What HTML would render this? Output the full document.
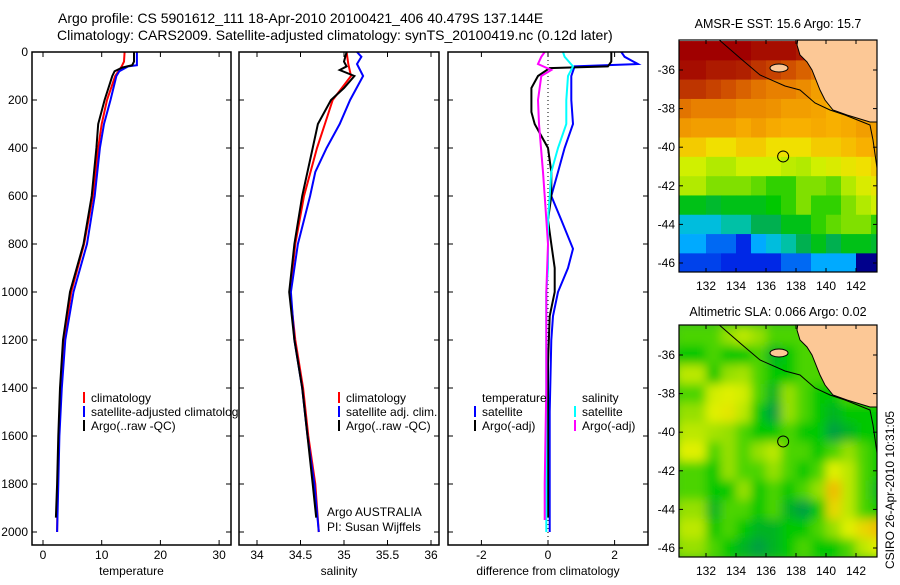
<!DOCTYPE html>
<html><head><meta charset="utf-8"><style>
body{margin:0;background:#fff;width:900px;height:580px;overflow:hidden}
svg{font-family:"Liberation Sans",sans-serif;font-size:12px}
</style></head><body>
<svg id="fig" width="900" height="580" viewBox="0 0 900 580">
<text x="58" y="23" font-size="14">Argo profile: CS 5901612_111 18-Apr-2010 20100421_406 40.479S 137.144E</text>
<text x="57" y="40" font-size="14">Climatology: CARS2009. Satellite-adjusted climatology: synTS_20100419.nc (0.12d later)</text>
<text x="778" y="28" text-anchor="middle" font-size="12.5">AMSR-E SST: 15.6 Argo: 15.7</text>
<text x="778" y="316" text-anchor="middle" font-size="12.5">Altimetric SLA: 0.066 Argo: 0.02</text>
<text transform="translate(894,490) rotate(-90)" text-anchor="middle">CSIRO 26-Apr-2010 10:31:05</text>
<text x="327" y="516">Argo AUSTRALIA</text>
<text x="327" y="531">PI: Susan Wijffels</text>
</svg>
<script>
// ---- profile data (depth in m) ----
const tClimD=[0,40,60,100,200,300,400,600,800,1000,1200,1400,1600,1800,2000];
const tClimV=[13.9,13.8,13.4,12.3,10.9,10.0,9.4,8.5,7.0,4.8,3.6,3.0,2.7,2.5,2.4];
const tSatD=[0,55,60,80,100,200,300,400,600,800,1000,1200,1400,1600,1800,2000];
const tSatV=[16.0,16.0,14.5,13.0,12.5,11.5,10.4,9.7,8.8,7.5,5.2,3.8,3.2,2.8,2.6,2.4];
const tArgD=[0,40,55,65,80,100,200,300,400,600,800,1000,1200,1400,1600,1800,1940];
const tArgV=[15.5,15.5,15.2,13.5,12.2,11.8,10.5,9.4,9.1,8.3,6.9,4.6,3.4,2.9,2.6,2.4,2.2];
const sClimD=[0,50,100,200,300,400,600,800,1000,1200,1400,1600,1800,2000];
const sClimV=[35.03,35.05,35.08,34.87,34.78,34.69,34.54,34.44,34.38,34.44,34.53,34.59,34.67,34.71];
const sSatD=[0,20,50,100,200,300,400,500,600,800,1000,1200,1400,1600,1800,2000];
const sSatV=[35.15,35.2,35.15,35.22,35.07,34.95,34.8,34.67,34.61,34.47,34.39,34.43,34.52,34.58,34.66,34.71];
const sArgD=[0,40,60,75,100,150,200,300,400,600,800,1000,1200,1400,1600,1800,1940];
const sArgV=[35.03,35.0,35.03,34.95,35.12,35.0,34.85,34.7,34.64,34.52,34.43,34.37,34.43,34.52,34.58,34.64,34.68];
const dTSatD=[0,20,50,60,100,200,300,400,500,600,700,820,900,1000,1100,1200,1500,2000];
const dTSatV=[2.2,2.3,2.7,0.8,0.7,0.7,0.75,0.5,0.3,0.1,0.4,0.75,0.6,0.3,0.15,0.1,0.05,0.05];
const dTArgD=[0,40,60,67,100,150,250,300,400,500,600,700,800,900,1000,1100,1300,1940];
const dTArgV=[1.9,1.9,1.8,0.05,-0.3,-0.5,-0.5,-0.4,0.0,0.1,0.1,0.0,0.1,0.2,0.2,0.05,0.0,0.0];
const dSSatD=[0,20,60,100,200,300,400,500,600,700,900,1000,1500,2000];
const dSSatV=[0.45,0.5,0.75,0.6,0.55,0.55,0.3,0.1,0.05,0.0,0.0,-0.05,-0.05,-0.05];
const dSArgD=[0,20,50,75,100,200,300,500,600,800,1000,1400,1800,1950];
const dSArgV=[-0.1,-0.2,-0.3,0.1,-0.2,-0.3,-0.27,-0.15,-0.1,0.0,-0.05,-0.05,-0.1,-0.1];
const depthTicks=[0,200,400,600,800,1000,1200,1400,1600,1800,2000];
const tTicks=[0,10,20,30];
const sTicks=[34,34.5,35,35.5,36];
const dTicks=[-2,0,2];
// ---- map data: rows lat -35..-46, cols lon 130.5..143.5 ----
const mapLats=[-35,-36,-37,-38,-39,-40,-41,-42,-43,-44,-45,-46];
const mapLons=[130.5,131.5,132.5,133.5,134.5,135.5,136.5,137.5,138.5,139.5,140.5,141.5,142.5,143.5];
const sstGrid=[
[19,19,19,19,19,18.8,18.8,18.8,18.6,18.5,18.5,18.5,18.5,18.5],
[18.8,18.8,18.6,18.6,18.5,18.2,18,17.8,17.5,17.2,17,17,17,17],
[18.2,18.2,18,17.8,17.5,17.2,17,17,16.8,16.5,16.5,16.5,16.5,16.5],
[17.2,17,17,17,16.8,16.8,16.7,16.5,16.5,16.4,16.2,16.3,16.5,16.5],
[16.6,16.5,16.5,16.5,16.3,16.5,16.3,16.2,16.2,16.3,16.2,16.3,16.5,16.5],
[15.8,15.8,15.5,15.5,15.8,15.8,15.5,15.5,15.5,15.8,15.8,16,16.2,16.3],
[14.8,14.8,14.5,14.5,14.8,14.8,14.8,14.6,14.5,14.8,15,15.3,15.5,15.8],
[14.5,14.5,14,14,14,13.8,13.5,13.5,14,14,13.8,14.5,15,15.3],
[13,13,12.8,13,13,13,13.2,13.5,14,13.5,13.5,14,14.5,14.8],
[11.5,11.5,11.5,12,12,12.5,12.5,13,13,13.5,13.8,14,14,13.5],
[11,11,10.5,10.5,10,11,11.5,12,12.5,13,12.5,13,13,12.8],
[10.2,10.2,10.2,10,10,10,10,10.5,10.5,11,11,11,9,9]];
const slaGrid=[
[0.05,0.05,0.05,0.1,0.15,0.1,0.05,0.05,0.05,0.05,0.05,0.05,0.05,0.05],
[0,0,0.05,0,0,0.05,-0.05,0,0.05,0.05,0.05,0.05,0.05,0.05],
[0.15,0.15,0,0.1,0.12,0.05,0,0,0.05,0.05,0.05,0.05,0.05,0.05],
[0.05,0.05,0.18,0.2,0.18,0.05,-0.05,0.1,0.05,0,0,0.05,0.05,0.05],
[0.1,0.1,0.2,0.22,0.15,0,-0.1,0.1,0.05,0,-0.05,0,0,0],
[0.15,0.15,0.12,0.1,0.05,0,0,0.05,0,0,-0.1,-0.05,0,0],
[0.2,0.2,0.05,0.1,0.05,0.1,0.15,0.05,0.05,0,0.05,0.1,0.05,0],
[0.05,0.05,0,0.1,0.05,0.05,0.1,0.05,0,0.05,0.2,0.15,0.05,0],
[0.05,0.05,0,0,0.1,0,0.05,0,0.05,0.1,0.3,0.15,0.05,-0.05],
[0.1,0.1,-0.05,0.05,0.05,0,0.05,-0.05,-0.1,0,0.25,0.15,0.05,0],
[0.15,0.15,0,0.05,0,-0.05,-0.05,0,0,0.05,0.1,0.2,0.25,0.3],
[0.1,0.1,0.05,0,-0.05,-0.1,-0.05,0,0.05,0,0,0.05,0.15,0.2]];
const lonTicks=[132,134,136,138,140,142];
const latTicks=[-36,-38,-40,-42,-44,-46];
const argoLon=137.144, argoLat=-40.479;

const svg=document.getElementById('fig');
const NS='http://www.w3.org/2000/svg';
function mk(tag,attrs,parent){const e=document.createElementNS(NS,tag);for(const k in attrs)e.setAttribute(k,attrs[k]);(parent||svg).appendChild(e);return e;}
const yD=d=>52+d*0.24;

function panel(name,x0,x1,xs,ticks,tickFmt,label,showY){
  const g=mk('g',{});
  
  
  for(const d of depthTicks){const y=yD(d);
    mk('line',{x1:x0,x2:x0+5,y1:y,y2:y,stroke:'#000'},g);
    mk('line',{x1:x1-5,x2:x1,y1:y,y2:y,stroke:'#000'},g);
    if(showY){const t=mk('text',{x:28,y:y+4,'text-anchor':'end'},g);t.textContent=d;
      
      }
  }
  for(const v of ticks){const x=xs(v);
    mk('line',{x1:x,x2:x,y1:52,y2:57,stroke:'#000'},g);
    mk('line',{x1:x,x2:x,y1:540,y2:545,stroke:'#000'},g);
    const t=mk('text',{x:x,y:559,'text-anchor':'middle'},g);t.textContent=tickFmt(v);
    
    }
  const t=mk('text',{x:(x0+x1)/2,y:575,'text-anchor':'middle'},g);t.textContent=label;
  
  
  return g;
}
function line(g,D,V,xs,color,name){
  const p=D.map((d,i)=>xs(V[i]).toFixed(1)+','+yD(d).toFixed(1)).join(' ');
  const e=mk('polyline',{points:p,fill:'none',stroke:color,'stroke-width':2},g);
  
  
}
function legend(g,items,x,y){
  items.forEach((it,i)=>{const yy=y+i*14;
    if(it[0])mk('rect',{x:x,y:yy-10,width:2,height:11,fill:it[0]},g);
    const t=mk('text',{x:x+8,y:yy},g);t.textContent=it[1];
    
    });
}
// panel 1
const xT=v=>43+v*5.87;
let g1=panel('temperature-panel',32,231,xT,tTicks,v=>v,'temperature',true);
line(g1,tClimD,tClimV,xT,'#f00','temp-climatology');
line(g1,tSatD,tSatV,xT,'#00f','temp-satellite');
line(g1,tArgD,tArgV,xT,'#000','temp-argo');
mk('rect',{x:32,y:52,width:199,height:493,fill:'none',stroke:'#000','stroke-width':1.5},g1);
legend(g1,[['#f00','climatology'],['#00f','satellite-adjusted climatology'],['#000','Argo(..raw -QC)']],83,402);
mk('rect',{x:239,y:395,width:25,height:25,fill:'#fff'});
// panel 2
const xS=v=>257+(v-34)*87;
let g2=panel('salinity-panel',239,439,xS,sTicks,v=>v,'salinity',false);
line(g2,sClimD,sClimV,xS,'#f00','sal-climatology');
line(g2,sSatD,sSatV,xS,'#00f','sal-satellite');
line(g2,sArgD,sArgV,xS,'#000','sal-argo');
mk('rect',{x:239,y:52,width:200,height:493,fill:'none',stroke:'#000','stroke-width':1.5},g2);
legend(g2,[['#f00','climatology'],['#00f','satellite adj. clim.'],['#000','Argo(..raw -QC)']],338,402);
// panel 3
const xDf=v=>548+v*33.3;
let g3=panel('difference-panel',448,648,xDf,dTicks,v=>v,'difference from climatology',false);
mk('line',{x1:548,x2:548,y1:52,y2:545,stroke:'#000','stroke-dasharray':'1,3'},g3);
line(g3,dTSatD,dTSatV,xDf,'#00f','diff-temp-satellite');
line(g3,dTArgD,dTArgV,xDf,'#000','diff-temp-argo');
line(g3,dSSatD,dSSatV,xDf,'#0ff','diff-sal-satellite');
line(g3,dSArgD,dSArgV,xDf,'#f0f','diff-sal-argo');
mk('rect',{x:448,y:52,width:200,height:493,fill:'none',stroke:'#000','stroke-width':1.5},g3);
legend(g3,[[null,'temperature'],['#00f','satellite'],['#000','Argo(-adj)']],474,402);
legend(g3,[[null,'salinity'],['#0ff','satellite'],['#f0f','Argo(-adj)']],574,402);

// ---- maps ----
function rgb(c){return 'rgb('+c.map(Math.round).join(',')+')';}
function ramp(stops,v){
  if(v<=stops[0][0])return rgb(stops[0][1]);
  for(let i=1;i<stops.length;i++){if(v<=stops[i][0]){const a=stops[i-1],b=stops[i],f=(v-a[0])/(b[0]-a[0]);
    return rgb([0,1,2].map(k=>a[1][k]+(b[1][k]-a[1][k])*f));}}
  return rgb(stops[stops.length-1][1]);
}
const sstStops=[[9,[0,0,140]],[10,[0,40,230]],[11,[0,170,255]],[11.8,[0,200,200]],[12.5,[0,176,80]],[13.2,[0,200,0]],[14,[128,224,0]],[14.8,[208,240,0]],[15.5,[240,224,0]],[16.2,[248,176,0]],[17,[232,128,0]],[17.8,[208,80,0]],[18.5,[176,32,0]],[19,[160,0,0]]];
const slaStops=[[-0.1,[0,160,64]],[0,[0,200,0]],[0.1,[150,224,0]],[0.2,[224,240,0]],[0.3,[240,190,0]]];
function map(name,top,grid,stops,blur){
  const dy=top-40;
  const xL=lon=>706+(lon-132)*15, yL=lat=>70+dy+(-36-lat)*19.3;
  const g=mk('g',{});
  
  
  const cid='clip'+name;
  const defs=mk('defs',{},g);
  const cp=mk('clipPath',{id:cid},defs);
  mk('rect',{x:679,y:top,width:198,height:232},cp);
  if(blur){const f=mk('filter',{id:'bl'+name,x:'-10%',y:'-10%',width:'120%',height:'120%'},defs);mk('feGaussianBlur',{stdDeviation:5},f);}
  const cg=mk('g',{'clip-path':'url(#'+cid+')'},g);
  mk('rect',{x:679,y:top,width:198,height:232,fill:blur?'#40c020':'#fff'},cg);
  const hg=mk('g',blur?{filter:'url(#bl'+name+')'}:{},cg);
  grid.forEach((row,r)=>row.forEach((v,c)=>{
    const lat=mapLats[r],lon=mapLons[c];
    const cell=mk('rect',{x:xL(lon-0.5),y:yL(lat+0.5),width:15.3,height:19.6,fill:ramp(stops,v)},hg);
    
    
  }));
  const lg=mk('g',{transform:'translate(0,'+dy+')'},cg);
  const land=mk('polygon',{points:'798,38 880,38 880,122 870,122 847,115 833,110 825,100 820,90 812,70 807,62 800,55 797,45',fill:'#fcc896',stroke:'#000','stroke-width':1},lg);
  
  
  mk('ellipse',{cx:779,cy:68,rx:9,ry:4,fill:'#fcc896',stroke:'#000'},lg);
  mk('polyline',{points:'717,38 740,58 760,75 785,86 800,90 815,103 830,110 845,115 860,121 870,125 873,140 877,168',fill:'none',stroke:'#000','stroke-width':1},lg);
  const m=mk('circle',{cx:xL(argoLon),cy:yL(argoLat),r:5.5,fill:'none',stroke:'#000','stroke-width':1},g);
  
  
  mk('rect',{x:679,y:top,width:198,height:232,fill:'none',stroke:'#000','stroke-width':1.2},g);
  for(const lo of lonTicks){const x=xL(lo);
    mk('line',{x1:x,x2:x,y1:top,y2:top+4,stroke:'#000'},g);
    mk('line',{x1:x,x2:x,y1:top+228,y2:top+232,stroke:'#000'},g);
    const t=mk('text',{x:x,y:top+250,'text-anchor':'middle'},g);t.textContent=lo;
    
    }
  for(const la of latTicks){const y=yL(la);
    mk('line',{x1:679,x2:683,y1:y,y2:y,stroke:'#000'},g);
    mk('line',{x1:873,x2:877,y1:y,y2:y,stroke:'#000'},g);
    const t=mk('text',{x:675,y:y+4,'text-anchor':'end'},g);t.textContent=la;
    
    }
}
map('sst-map',40,sstGrid,sstStops,false);
map('sla-map',325,slaGrid,slaStops,true);
</script>
</body></html>
